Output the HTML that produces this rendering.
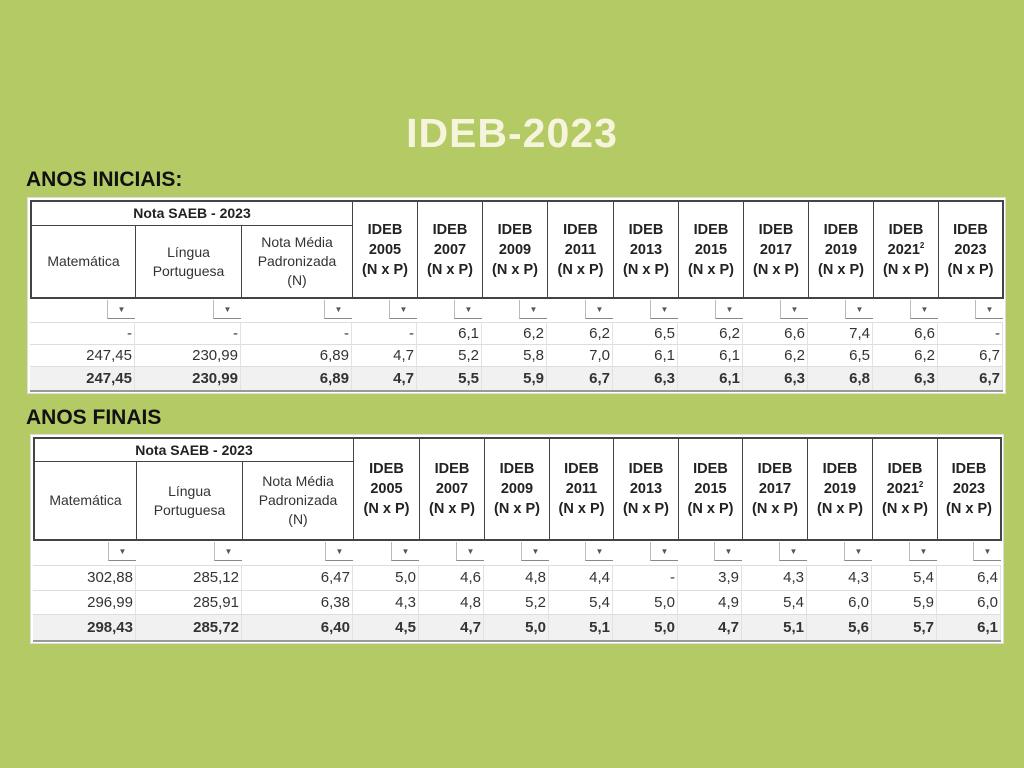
<!DOCTYPE html>
<html><head><meta charset="utf-8">
<style>
body{margin:0;width:1024px;height:768px;background:#b4ca65;position:relative;overflow:hidden;font-family:"Liberation Sans",sans-serif;}
.a{position:absolute;box-sizing:border-box;}
.t{color:#f6f4dc;font-weight:bold;font-size:41px;left:0;width:1024px;text-align:center;top:110px;letter-spacing:1px}
.h{font-weight:bold;font-size:21px;color:#111;left:26px}
.panel{background:#fff;border:1px solid #ddd}
.c{display:flex;align-items:center;justify-content:center;text-align:center;color:#333;font-size:14px;line-height:19px;border:1px solid #444}
.b{font-weight:bold;color:#222}
.r{text-align:right;font-size:15px;color:#333;padding-right:2px;display:flex;align-items:center;justify-content:flex-end}
.dd{width:28px;height:19px;border-left:1px solid #bbb;border-bottom:1px solid #888;font-size:8px;color:#555;display:flex;align-items:center;justify-content:center}
.hl{background:#e9e9e9;height:1px}
sup{font-size:8px;line-height:0;vertical-align:6px}
</style></head><body>
<div class="a t">IDEB-2023</div>
<div class="a h" style="top:168px">ANOS INICIAIS:</div>
<div class="a h" style="top:406px">ANOS FINAIS</div>
<script>
var root=document.body;
function el(cls,st,html){var d=document.createElement('div');d.className='a '+cls;d.style.cssText=st;if(html!=null)d.innerHTML='<div style="white-space:nowrap">'+html+'</div>';root.appendChild(d);return d;}
function table(o){
 var X=o.x,P=o;
 el('panel','left:'+(X[0]-3)+'px;top:'+(P.top-3)+'px;width:'+(X[13]-X[0]+6)+'px;height:'+(P.bot-P.top+6)+'px');
 el('c b','left:'+X[0]+'px;top:'+P.top+'px;width:'+(X[3]-X[0]+1)+'px;height:'+(P.r1-P.top+1)+'px;border-width:2px 1px 1px 2px','Nota SAEB - 2023');
 var sub=['Matemática','Língua<br>Portuguesa','Nota Média<br>Padronizada<br>(N)'];
 for(var i=0;i<3;i++)el('c','left:'+X[i]+'px;top:'+P.r1+'px;width:'+(X[i+1]-X[i]+1)+'px;height:'+(P.hb-P.r1+1)+'px;border-width:1px 1px 2px '+(i==0?2:1)+'px',sub[i]);
 var yrs=['2005','2007','2009','2011','2013','2015','2017','2019','2021<sup>2</sup>','2023'];
 for(var i=0;i<10;i++)el('c b','left:'+X[i+3]+'px;top:'+P.top+'px;width:'+(X[i+4]-X[i+3]+1)+'px;height:'+(P.hb-P.top+1)+'px;border-width:2px '+(i==9?2:1)+'px 2px 1px;font-size:14.5px;line-height:20px','IDEB<br>'+yrs[i]+'<br>(N x P)');
 for(var i=0;i<13;i++)el('dd','left:'+(X[i+1]-28)+'px;top:'+(P.hb+2)+'px','▼');
 for(var r=0;r<3;r++){
  var y0=P.rows[r],y1=P.rows[r+1];
  if(r==2)el('','left:'+X[0]+'px;top:'+y0+'px;width:'+(X[13]-X[0])+'px;height:'+(y1-y0)+'px;background:#f1f1f1');
  el('hl','left:'+X[0]+'px;top:'+y0+'px;width:'+(X[13]-X[0])+'px;background:#ddd');
  for(var i=0;i<13;i++){
   el('r'+(r==2?' b':''),'left:'+X[i]+'px;top:'+y0+'px;width:'+(X[i+1]-X[i])+'px;height:'+(y1-y0)+'px;border-right:1px solid #e2e2e2',P.d[r][i]);
  }
 }
 el('','left:'+X[0]+'px;top:'+P.rows[3]+'px;width:'+(X[13]-X[0])+'px;height:2px;background:#999');
}
table({x:[30,135,241,352,417,482,547,613,678,743,808,873,938,1003],top:200,r1:225,hb:298,bot:391,rows:[322,344,366,390],
d:[['-','-','-','-','6,1','6,2','6,2','6,5','6,2','6,6','7,4','6,6','-'],
['247,45','230,99','6,89','4,7','5,2','5,8','7,0','6,1','6,1','6,2','6,5','6,2','6,7'],
['247,45','230,99','6,89','4,7','5,5','5,9','6,7','6,3','6,1','6,3','6,8','6,3','6,7']]});
table({x:[33,136,242,353,419,484,549,613,678,742,807,872,937,1001],top:437,r1:461,hb:540,bot:641,rows:[565,590,614,640],
d:[['302,88','285,12','6,47','5,0','4,6','4,8','4,4','-','3,9','4,3','4,3','5,4','6,4'],
['296,99','285,91','6,38','4,3','4,8','5,2','5,4','5,0','4,9','5,4','6,0','5,9','6,0'],
['298,43','285,72','6,40','4,5','4,7','5,0','5,1','5,0','4,7','5,1','5,6','5,7','6,1']]});
</script>
</body></html>
